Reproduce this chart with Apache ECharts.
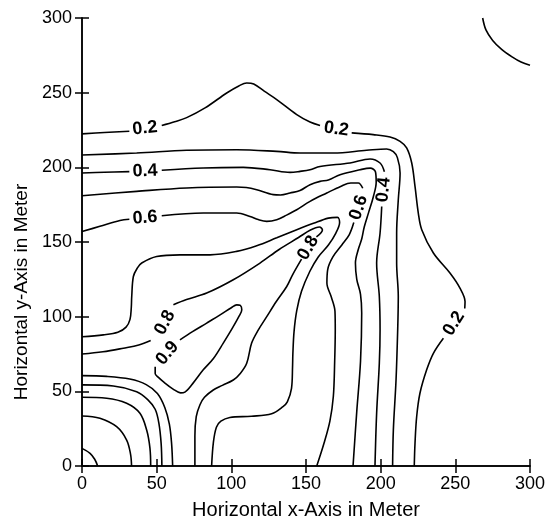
<!DOCTYPE html>
<html><head><meta charset="utf-8">
<script src="https://cdn.jsdelivr.net/npm/echarts@6.0.0/dist/echarts.min.js"></script>
<style>html,body{margin:0;padding:0;background:#fff}#c{width:552px;height:529px}</style>
</head><body><div id="c"></div>
<script>
// axis ticks
const xTicks = [0, 50, 100, 150, 200, 250, 300];
const yTicks = [0, 50, 100, 150, 200, 250, 300];
const xTitle = 'Horizontal x-Axis in Meter';
const yTitle = 'Horizontal y-Axis in Meter';

// contour lines (x, y in meters), each level as list of segments (breaks at labels)
const level01 = [
  [[268.3,300],[270.5,292],[275,285],[281,279],[288,274],[294,270.5],[300,268.3]]
];
const level02 = [
  [[0,222.4],[15,223.3],[31.7,224.2]],
  [[53.4,228],[62,230.5],[70.1,233.3],[82.4,239.8],[96.9,249.8],[105,254.5],[110.3,256.5],[115,255.8],[122,251],[130.4,245.4],[143.8,235.3],[152.7,230.3],[159.4,228]],
  [[180.6,223.1],[195,221.9],[206.3,220.3],[213,217.4],[217.4,213],[220.8,202.9],[223,187.2],[225.2,169.4],[227.5,158.2],[235.3,142.6],[246.4,129.2],[253.1,119.1],[256.5,110.1],[256.3,105.5]],
  [[242,85.6],[235.3,75.5],[230.8,64.4],[226.3,48.7],[224.1,33],[223,15.2],[222.5,0]]
];
const level03 = [
  [[0,208.3],[36.6,209.6],[70,211.4],[103.6,211.8],[130.4,210.7],[146,209.6],[168.3,209.6],[190.6,211.4],[204,212.3],[208.5,210.5],[211.2,206.5],[213,196.2],[211.8,178.3],[210.7,156],[210.7,135.9],[211.8,113.5],[211.4,91.2],[210.3,57.7],[208.5,24.1],[208,0]]
];
const level04 = [
  [[0,196.2],[15,196.7],[31.7,197.1]],
  [[53.4,198],[81.2,199.6],[108,200],[125.9,198.4],[139.3,196.6],[146,197.3],[152.7,198.4],[159.4,200.6],[179.5,202.9],[192.9,205.6],[199.6,202.9],[202.5,197]],
  [[200.7,173.8],[199.6,156],[197.3,135.9],[199.1,113.5],[199.6,91.2],[199.1,68.8],[197.3,35.3],[196.2,0]]
];
const level05 = [
  [[0,181],[36.6,183.9],[70.1,186.2],[103.6,186.8],[110,186.5],[117,185],[128.1,181.7],[133,181.5],[139.3,182.8],[146,184.5],[152.7,188.4],[159.4,190.6],[165,191.5],[172.8,195.1],[186.2,198.4],[193,199.5],[196.5,197],[197,190],[195,180],[192,170],[189,160],[187.3,152],[185,145],[183.1,136],[184,125],[186.5,115],[187.3,102.4],[186.5,70],[184,36.6],[181.5,0]]
];
const level06 = [
  [[0,157],[12,160.5],[25.4,164.4],[31.7,165.2]],
  [[53.4,167.6],[81.2,169.4],[103.6,169.4],[112.5,167.1],[118,165],[123.7,163.8],[130.4,164.9],[137,168],[143.8,171.6],[152.7,177.2],[163.9,182.8],[173.2,187.2],[180,189.5],[185,189.5],[188,186]],
  [[182,163],[179,155],[174,148],[168,140],[164.5,131.4],[164,122.5],[167,113],[169.4,103.6],[169.6,91.2],[169.2,70],[168.3,46.5],[166,30],[162,15],[157.2,0]]
];
const level07 = [
  [[0,86.5],[14.3,87.8],[24,89.5],[29.5,93],[32.1,98],[33,106],[33.3,113.5],[34.4,126.9],[37,132.5],[40,135.9],[50,140.3],[65.6,141.4],[85.7,141.4],[103.6,143.7],[117,147.5],[130.4,152.8],[143.8,158.2],[155,162.5],[165,166],[171,166.5],[172.5,163],[170,156],[165,148],[158.2,140],[152.6,130.4],[147,117],[143.8,104],[142,90],[141.2,75],[141,66.6],[140.3,52],[137.5,43],[134.6,39.8],[127,35],[113.5,33.3],[99,32.5],[93,30],[90,26],[88,16],[86.8,0]]
];
const level08 = [
  [[0,75],[14,76.5],[27.7,78.9],[38,81],[46,84]],
  [[61.2,108],[70,111.5],[83.5,115.8],[101.3,124.7],[119.2,135.9],[132,145],[145,153],[153,158],[159,160],[161,158],[157,153.5]],
  [[147,138.5],[141,128],[137.1,120.2],[130,110],[123.7,100],[118,91],[113.6,82.3],[110.3,68.8],[106,62],[101.3,57.6],[94,54],[87.9,50.9],[82,46],[79,41],[76.5,33],[75.6,20],[75.6,0]]
];
const level09 = [
  [[65.6,84.5],[74,90],[83.5,95.7],[93,101.5],[100,106],[103.6,107.9],[106,107.5],[107,104.6],[105,100],[100.5,92],[94.6,82.3],[88,72],[81.2,64.4],[74,55],[68.9,49.5],[66,49],[61,51.5],[55,56],[51,59.5],[49,62],[49,66.5]]
];
// lower-left corner arcs
const cornerA = [[[0,60.5],[16.5,60],[32,58.2],[43,54.5],[50.5,48.5],[55.5,39],[58.5,28],[60,15],[60.7,0]]];
const cornerB = [[[0,54.3],[21,53.6],[36.6,49.8],[44,44.5],[49,38],[51.5,28.6],[53,15],[53.5,0]]];
const cornerC = [[[0,46],[16.5,45.4],[29.9,42],[38.8,35.3],[43.3,24.1],[45.5,12],[46,0]]];
const cornerD = [[[0,33.5],[12,32],[23.2,26.3],[29.9,17.4],[32.5,8],[33.2,0]]];
const cornerE = [[[0,11.8],[5.4,8.5],[8.5,4.5],[10.5,0]]];

// contour labels: text, x, y
const labelText = ['0.2','0.2','0.2','0.4','0.4','0.6','0.6','0.8','0.8','0.9'];
const labelX    = [42.2, 170.3, 249, 42.2, 202, 42.2, 185.3, 55.5, 151.5, 57.2];
const labelY    = [226.2, 225.6, 95.5, 197.4, 185, 166.2, 173, 96, 146, 75.5];
// style: rotation of each label (degrees, anticlockwise)
const labelRot  = [6, -8, 58, 2, 84, 4, 72, 62, 60, 50];

const allLevels = [level01, level02, level03, level04, level05, level06, level07, level08, level09,
                   cornerA, cornerB, cornerC, cornerD, cornerE];

const font = 'Liberation Sans';
const series = [];
allLevels.forEach(lv => lv.forEach(seg => {
  series.push({
    type: 'line', data: seg, smooth: 0.35, showSymbol: false, silent: true,
    lineStyle: { color: '#000', width: 1.6 }, animation: false
  });
}));
series.push({
  type: 'custom', silent: true, animation: false, z: 10,
  data: labelText.map((t, i) => [labelX[i], labelY[i], i]),
  renderItem: function (params, api) {
    const p = api.coord([api.value(0), api.value(1)]);
    const i = api.value(2);
    return {
      type: 'text', x: p[0], y: p[1], rotation: labelRot[i] * Math.PI / 180,
      style: { text: labelText[i], fill: '#000', font: 'bold 18px "Liberation Sans"',
               align: 'center', verticalAlign: 'middle' }
    };
  }
});

const axisCommon = {
  type: 'value', min: 0, max: 300, interval: 50,
  axisLine: { show: true, lineStyle: { color: '#000', width: 1.5 } },
  axisTick: { show: true, inside: false, length: 7, lineStyle: { color: '#000', width: 1.5 } },
  splitLine: { show: false }
};
const chart = echarts.init(document.getElementById('c'), null, { renderer: 'canvas' });
chart.setOption({
  animation: false,
  backgroundColor: '#fff',
  grid: { left: 82, right: 22, top: 18, bottom: 63 },
  xAxis: [
    Object.assign({}, axisCommon, {
      position: 'bottom',
      axisLabel: { show: true, color: '#000', fontSize: 18, fontFamily: font, margin: 9,
                   formatter: v => xTicks.includes(v) ? String(v) : '' },
      name: xTitle, nameLocation: 'middle', nameGap: 34,
      nameTextStyle: { color: '#000', fontSize: 20, fontFamily: font }
    }),
    Object.assign({}, axisCommon, { position: 'top', axisLabel: { show: false } })
  ],
  yAxis: [
    Object.assign({}, axisCommon, {
      position: 'left',
      axisLabel: { show: true, color: '#000', fontSize: 18, fontFamily: font, margin: 10,
                   formatter: v => yTicks.includes(v) ? String(v) : '' },
      name: yTitle, nameLocation: 'middle', nameGap: 50,
      nameTextStyle: { color: '#000', fontSize: 19, fontFamily: font, padding: [0, 100, 0, 0] }
    }),
    Object.assign({}, axisCommon, { position: 'right', axisLabel: { show: false } })
  ],
  series: series
});
</script>
</body></html>
